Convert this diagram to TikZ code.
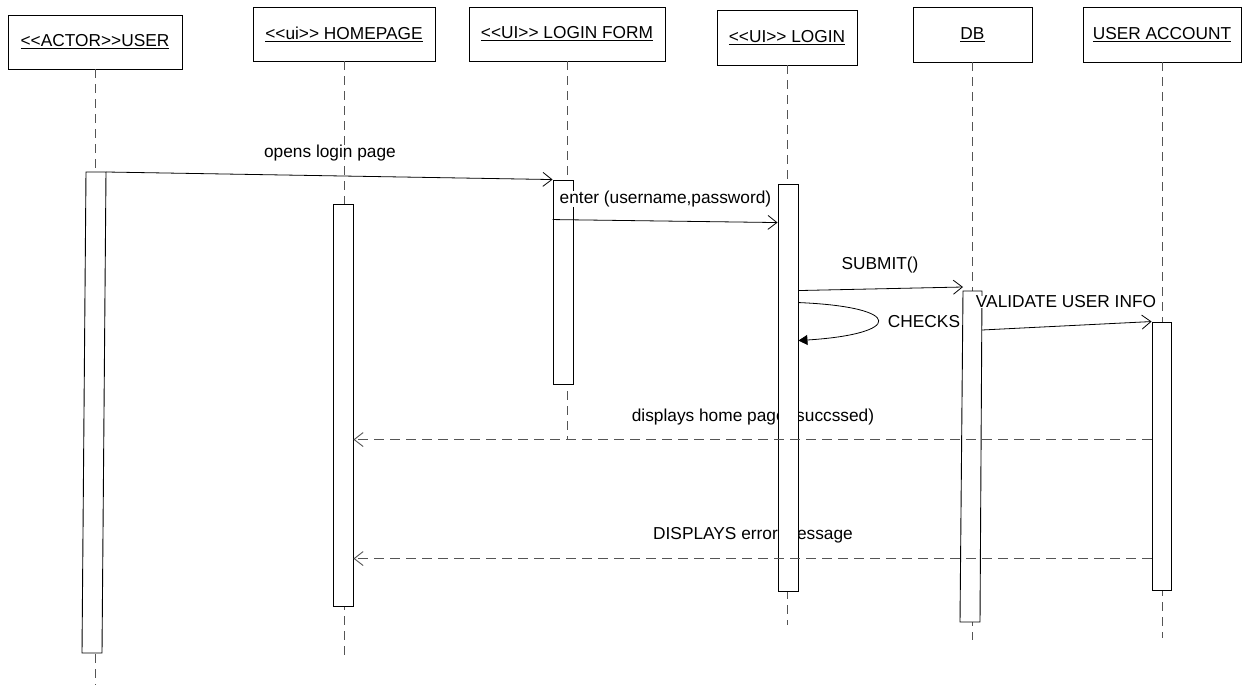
\documentclass[tikz,border=0pt]{standalone}
\usepackage{fontspec}
\setmainfont{Liberation Sans}[Ligatures=TeXOff]
\usetikzlibrary{arrows.meta}
\definecolor{dashgray}{HTML}{555555}
\newcommand\lguil{<\kern0pt<}
\newcommand\rguil{>\kern0pt>}
\tikzset{
  txt/.style={font=\fontsize{17.3pt}{20pt}\selectfont, inner sep=0pt},
  hdr/.style={txt, draw=black, line width=0.9pt, fill=white},
  act/.style={draw=black, line width=0.9pt, fill=white, minimum width=20pt, inner sep=0pt},
  actpath/.style={draw=black, line width=0.9pt, fill=white},
  lifeline/.style={draw=dashgray, line width=0.9pt, dash pattern=on 9pt off 6pt},
  msg/.style={draw=black, line width=0.8pt, -{Straight Barb[length=9pt,width=14pt]}},
  selfmsg/.style={draw=black, line width=0.8pt, -{Triangle[length=9pt,width=10pt]}},
  ret/.style={draw=dashgray, line width=0.9pt, dash pattern=on 10pt off 6pt, -{Straight Barb[length=9pt,width=14pt]}},
}
\begin{document}
\begin{tikzpicture}[x=1pt,y=-1pt]
\useasboundingbox (0,0) rectangle (1243,685);
\fill[white] (0,0) rectangle (1243,685);

% object headers
\node[hdr, minimum width=174pt, minimum height=54pt] (hUser)  at (95,42)    {\underline{\lguil ACTOR\rguil USER}};
\node[hdr, minimum width=182pt, minimum height=54pt] (hHome)  at (344,34)   {\underline{\lguil ui\rguil\ HOMEPAGE}};
\node[hdr, minimum width=196pt, minimum height=54pt] (hForm)  at (567,34)   {\underline{\lguil UI\rguil\ LOGIN FORM}};
\node[hdr, minimum width=140pt, minimum height=55pt] (hLogin) at (787,37.5) {\underline{\lguil UI\rguil\ LOGIN}};
\node[hdr, minimum width=119pt, minimum height=55pt] (hDB)    at (972.5,34.5) {\underline{DB}};
\node[hdr, minimum width=158pt, minimum height=55pt] (hAcc)   at (1162,34.5)  {\underline{USER ACCOUNT}};

% lifeline ends
\coordinate (eUser)  at (95,685);
\coordinate (eHome)  at (344,656);
\coordinate (eForm)  at (567,440);
\coordinate (eLogin) at (787,625);
\coordinate (eDB)    at (972.5,640);
\coordinate (eAcc)   at (1162,638);

\draw[lifeline] (hUser.south)  -- (eUser);
\draw[lifeline] (hHome.south)  -- (eHome);
\draw[lifeline] (hForm.south)  -- (eForm);
\draw[lifeline] (hLogin.south) -- (eLogin);
\draw[lifeline] (hDB.south)    -- (eDB);
\draw[lifeline] (hAcc.south)   -- (eAcc);

% labels lying under the activation bars
\node[txt] (lHome) at (753,417) {displays home page (succssed)};
\node[txt] (lErr)  at (753,535) {DISPLAYS error message};

% activation bars
\coordinate (uTL) at (86,172);
\coordinate (uTR) at (106,172);
\coordinate (uBR) at (102,653);
\coordinate (uBL) at (82,653);
\path[actpath] (uTL) -- (uTR) -- (uBR) -- (uBL) -- cycle;

\node[act, minimum height=402pt] (aHome)  at (343,405) {};
\node[act, minimum height=204pt] (aForm)  at (563,282) {};
\node[act, minimum height=407pt] (aLogin) at (788,387.5) {};

\coordinate (dTL) at (963,291);
\coordinate (dTR) at (982,291);
\coordinate (dBR) at (980,622);
\coordinate (dBL) at (960,622);
\path[actpath] (dTL) -- (dTR) -- (dBR) -- (dBL) -- cycle;

\node[act, minimum width=19pt, minimum height=268pt] (aAcc) at (1161.5,456) {};

% message end points on the slanted bars
\coordinate (dbIn)  at (963,287);
\coordinate (dbOut) at (982,330);

% messages
\node[txt] (lOpen) at (330,153) {opens login page};
\draw[msg] (uTR) -- (aForm.north west);

\draw[msg] ([yshift=-40pt]aForm.north west) -- ([yshift=-39pt]aLogin.north west);
\node[txt, fill=white] (lEnter) at (665.5,199) {enter (username,password)};

\node[txt] (lSubmit) at (880,265) {SUBMIT()};
\draw[msg] ([yshift=-107pt]aLogin.north east) -- (dbIn);

\draw[selfmsg] ([yshift=-119pt]aLogin.north east)
  .. controls (905,307) and (903,334) .. ([yshift=-157pt]aLogin.north east);
\node[txt] (lChecks) at (924,322) {CHECKS};

\draw[msg] (dbOut) -- (aAcc.north west);
\node[txt, fill=white] (lValid) at (1066,302) {VALIDATE USER INFO};

% return messages
\draw[ret] ([yshift=-118pt]aAcc.north west) -- ([yshift=-236pt]aHome.north east);
\draw[ret] ([yshift=-237pt]aAcc.north west) -- ([yshift=-355pt]aHome.north east);
\end{tikzpicture}
\end{document}
